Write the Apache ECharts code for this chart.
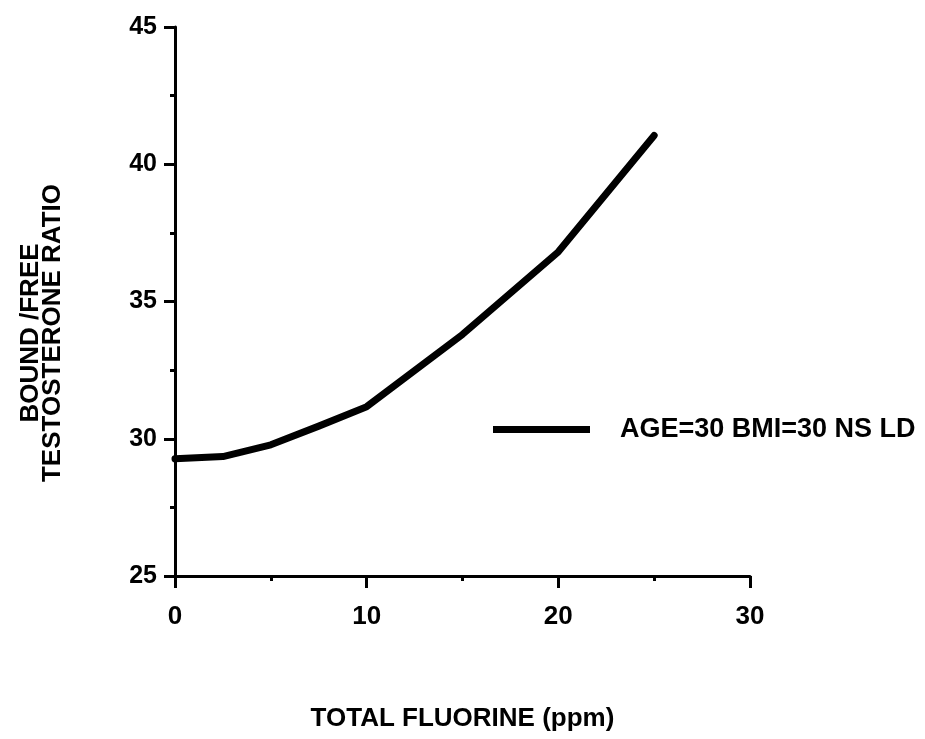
<!DOCTYPE html>
<html>
<head>
<meta charset="utf-8">
<script src="https://cdn.jsdelivr.net/npm/echarts@6/dist/echarts.min.js"></script>
<style>html,body{margin:0;padding:0;background:#fff}#c{width:925px;height:739px}</style>
</head>
<body>
<div id="c"></div>
<script>
const fluorine = [0, 2.5, 5, 7.5, 10, 15, 20, 25];
const ratio = [29.27, 29.35, 29.78, 30.46, 31.17, 33.8, 36.81, 41.05];
const seriesName = 'AGE=30 BMI=30 NS LD';
const xTitle = 'TOTAL FLUORINE (ppm)';
const yTitle = ['BOUND /FREE', 'TESTOSTERONE RATIO'];

const FONT = '"Liberation Sans", Arial, sans-serif';
const chart = echarts.init(document.getElementById('c'));
chart.setOption({
  backgroundColor: '#fff',
  animation: false,
  grid: { left: 175, right: 175, top: 27, bottom: 163, containLabel: false },
  legend: {
    left: 488, top: 411,
    icon: 'rect', itemWidth: 97, itemHeight: 7,
    data: [seriesName],
    textStyle: { fontFamily: FONT, fontWeight: 'bold', fontSize: 27, color: '#000', padding: [0, 0, 0, 25] }
  },
  xAxis: {
    type: 'value', min: 0, max: 30, interval: 10,
    name: xTitle, nameLocation: 'middle', nameGap: 130,
    nameTextStyle: { fontFamily: FONT, fontWeight: 'bold', fontSize: 26, color: '#000' },
    axisLine: { lineStyle: { color: '#000', width: 3 } },
    axisTick: { show: true, inside: false, length: 12, lineStyle: { color: '#000', width: 3 } },
    minorTick: { show: true, splitNumber: 2, length: 5, lineStyle: { color: '#000', width: 3 } },
    splitLine: { show: false },
    axisLabel: { margin: 28, fontFamily: FONT, fontWeight: 'bold', fontSize: 26, color: '#000' }
  },
  yAxis: {
    type: 'value', min: 25, max: 45, interval: 5,
    axisLine: { show: true, lineStyle: { color: '#000', width: 3 } },
    axisTick: { show: true, inside: false, length: 11, lineStyle: { color: '#000', width: 3 } },
    minorTick: { show: true, splitNumber: 2, length: 5, lineStyle: { color: '#000', width: 3 } },
    splitLine: { show: false },
    axisLabel: { margin: 18, fontFamily: FONT, fontWeight: 'bold', fontSize: 25, color: '#000' }
  },
  graphic: [{
    type: 'text',
    x: 42, y: 333,
    rotation: Math.PI / 2,
    style: {
      text: yTitle.join('\n'),
      font: 'bold 26px ' + FONT,
      fill: '#000',
      textAlign: 'center',
      textVerticalAlign: 'middle',
      lineHeight: 22
    }
  }],
  series: [{
    name: seriesName,
    type: 'line',
    data: fluorine.map((x, i) => [x, ratio[i]]),
    showSymbol: false,
    symbol: 'none',
    smooth: false,
    color: '#000',
    lineStyle: { color: '#000', width: 7, cap: 'round', join: 'round' }
  }]
});
</script>
</body>
</html>
